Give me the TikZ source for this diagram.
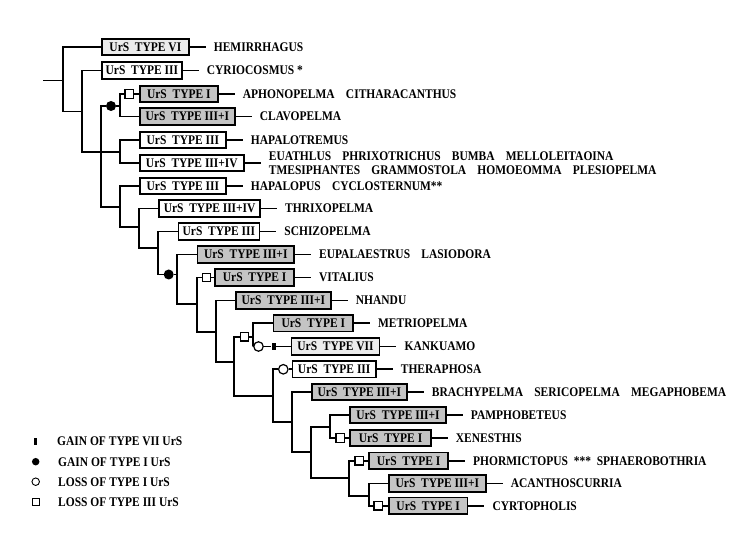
\documentclass[tikz,border=0pt]{standalone}
\usepackage{fontspec}
\setmainfont{Liberation Serif}[FakeStretch=0.87]
\usetikzlibrary{positioning}
\definecolor{withI}{RGB}{196,196,196}
\definecolor{rareurs}{RGB}{236,236,236}
\newcommand\wsp{\hspace{0.85em}}

\begin{document}
\begin{tikzpicture}
    [x=1pt, y=-1pt,
    font=\bfseries\fontsize{13.2}{13.4}\selectfont,
    branch/.style={line width=1.7pt},
    urs/.style={draw, line width=1.7pt, anchor=west, minimum height=16.5pt, inner sep=0pt},
    plainurs/.style={urs, fill=white},
    grayurs/.style={urs, fill=withI},
    lighturs/.style={urs, fill=rareurs},
    taxon/.style={right=16pt of #1, inner xsep=8pt, inner ysep=0pt, align=left},
    lossIII/.style={draw, fill=white, line width=1.2pt, minimum size=8.5pt, inner sep=0pt},
    lossI/.style={circle, draw, fill=white, line width=1.2pt, minimum size=9.5pt, inner sep=0pt},
    gainI/.style={circle, fill=black, minimum size=10pt, inner sep=0pt},
    gainVII/.style={fill=black, minimum width=4.3pt, minimum height=6.7pt, inner sep=0pt},
    legendtext/.style={anchor=west, inner sep=0pt}]

    \useasboundingbox (0,0) rectangle (740,540);

    % drawing the UrS boxes
    \node[lighturs, minimum width=87pt]  (b1)  at (101,47)    {UrS\ \ TYPE VI};
    \node[plainurs, minimum width=80pt]  (b2)  at (101,70.5)  {UrS\ \ TYPE III};
    \node[grayurs, minimum width=78pt]   (b3)  at (139,94)    {UrS\ \ TYPE I};
    \node[grayurs, minimum width=95pt]   (b4)  at (139,116.5) {UrS\ \ TYPE III+I};
    \node[plainurs, minimum width=86pt]  (b5)  at (139,140)   {UrS\ \ TYPE III};
    \node[plainurs, minimum width=104pt] (b6)  at (139,163)   {UrS\ \ TYPE III+IV};
    \node[plainurs, minimum width=86pt]  (b7)  at (139,186)   {UrS\ \ TYPE III};
    \node[plainurs, minimum width=101pt] (b8)  at (158.3,208.5) {UrS\ \ TYPE III+IV};
    \node[plainurs, minimum width=81pt]  (b9)  at (177.5,231.5) {UrS\ \ TYPE III};
    \node[grayurs, minimum width=96.5pt] (b10) at (196.7,254.5) {UrS\ \ TYPE III+I};
    \node[grayurs, minimum width=79pt]   (b11) at (214.3,277.5) {UrS\ \ TYPE I};
    \node[grayurs, minimum width=95pt]   (b12) at (235,300.5) {UrS\ \ TYPE III+I};
    \node[grayurs, minimum width=79.5pt] (b13) at (272.7,323.3) {UrS\ \ TYPE I};
    \node[lighturs, minimum width=88pt]  (b14) at (290.7,346.5) {UrS\ \ TYPE VII};
    \node[plainurs, minimum width=83.3pt] (b15) at (291.7,369.3) {UrS\ \ TYPE III};
    \node[grayurs, minimum width=95pt]   (b16) at (311,392)   {UrS\ \ TYPE III+I};
    \node[grayurs, minimum width=95.7pt] (b17) at (349.3,415) {UrS\ \ TYPE III+I};
    \node[grayurs, minimum width=80.7pt] (b18) at (349.3,438) {UrS\ \ TYPE I};
    \node[grayurs, minimum width=79pt]   (b19) at (368.3,460.8) {UrS\ \ TYPE I};
    \node[grayurs, minimum width=97pt]   (b20) at (388,483.5) {UrS\ \ TYPE III+I};
    \node[grayurs, minimum width=78.7pt] (b21) at (388,505.8) {UrS\ \ TYPE I};

    % drawing the genera
    \node[taxon=b1]  (t1)  {HEMIRRHAGUS};
    \node[taxon=b2]  (t2)  {CYRIOCOSMUS *};
    \node[taxon=b3]  (t3)  {APHONOPELMA\wsp CITHARACANTHUS};
    \node[taxon=b4]  (t4)  {CLAVOPELMA};
    \node[taxon=b5]  (t5)  {HAPALOTREMUS};
    \node[taxon=b6]  (t6)  {EUATHLUS\wsp PHRIXOTRICHUS\wsp BUMBA\wsp MELLOLEITAOINA\\
                            TMESIPHANTES\wsp GRAMMOSTOLA\wsp HOMOEOMMA\wsp PLESIOPELMA};
    \node[taxon=b7]  (t7)  {HAPALOPUS\wsp CYCLOSTERNUM**};
    \node[taxon=b8]  (t8)  {THRIXOPELMA};
    \node[taxon=b9]  (t9)  {SCHIZOPELMA};
    \node[taxon=b10] (t10) {EUPALAESTRUS\wsp LASIODORA};
    \node[taxon=b11] (t11) {VITALIUS};
    \node[taxon=b12] (t12) {NHANDU};
    \node[taxon=b13] (t13) {METRIOPELMA};
    \node[taxon=b14] (t14) {KANKUAMO};
    \node[taxon=b15] (t15) {THERAPHOSA};
    \node[taxon=b16] (t16) {BRACHYPELMA\wsp SERICOPELMA\wsp MEGAPHOBEMA};
    \node[taxon=b17] (t17) {PAMPHOBETEUS};
    \node[taxon=b18] (t18) {XENESTHIS};
    \node[taxon=b19] (t19) {PHORMICTOPUS \ *** \ SPHAEROBOTHRIA};
    \node[taxon=b20] (t20) {ACANTHOSCURRIA};
    \node[taxon=b21] (t21) {CYRTOPHOLIS};

    \foreach \i in {1,...,21}
        \draw[branch] (b\i) -- (t\i);

    % drawing the character changes
    \node[gainI]   (d1)  at (111,106) {};
    \node[gainI]   (d2)  at (168.7,274.5) {};
    \node[lossIII] (s3)  at (129.2,94) {};
    \node[lossIII] (s11) at (206.5,277.5) {};
    \node[lossIII] (sQ)  at (244.5,336.7) {};
    \node[lossIII] (s18) at (340.2,438) {};
    \node[lossIII] (s19) at (359.2,460.8) {};
    \node[lossIII] (s21) at (378.3,505.8) {};
    \node[lossI]   (c14) at (258.5,346.5) {};
    \node[lossI]   (c15) at (283.3,369.3) {};
    \node[gainVII] (g14) at (273.8,346.5) {};

    % internal nodes of the tree
    \coordinate (root) at (43,80.5);
    \coordinate (nA) at (63,80.5);
    \coordinate (nB) at (82,111.5);
    \coordinate (nC) at (101,152);
    \coordinate (nD) at (120,106);
    \coordinate (nE) at (120,152);
    \coordinate (nP1) at (120,207);
    \coordinate (nP2) at (139.3,226.7);
    \coordinate (nP3) at (158.3,248);
    \coordinate (nP4) at (177.3,274.5);
    \coordinate (nP5) at (196.7,304.3);
    \coordinate (nP6) at (215.7,331.7);
    \coordinate (nP7) at (234.3,361.7);
    \coordinate (nQ) at (253.3,336.7);
    \coordinate (nR) at (273.3,396);
    \coordinate (nS) at (291.7,421.7);
    \coordinate (nT) at (311,451.7);
    \coordinate (nU) at (330,427.3);
    \coordinate (nV) at (349.3,477.7);
    \coordinate (nW) at (369,495.7);

    % drawing the branches
    \draw[branch] (root) -- (nA);
    \draw[branch] (nA) |- (b1);
    \draw[branch] (nA) |- (nB);
    \draw[branch] (nB) |- (b2);
    \draw[branch] (nB) |- (nC);
    \draw[branch] (nC) |- (d1) -- (nD);
    \draw[branch] (nC) -- (nE);
    \draw[branch] (nC) |- (nP1);
    \draw[branch] (nD) |- (s3) -- (b3);
    \draw[branch] (nD) |- (b4);
    \draw[branch] (nE) |- (b5);
    \draw[branch] (nE) |- (b6);
    \draw[branch] (nP1) |- (b7);
    \draw[branch] (nP1) |- (nP2);
    \draw[branch] (nP2) |- (b8);
    \draw[branch] (nP2) |- (nP3);
    \draw[branch] (nP3) |- (b9);
    \draw[branch] (nP3) |- (d2) -- (nP4);
    \draw[branch] (nP4) |- (b10);
    \draw[branch] (nP4) |- (nP5);
    \draw[branch] (nP5) |- (s11) -- (b11);
    \draw[branch] (nP5) |- (nP6);
    \draw[branch] (nP6) |- (b12);
    \draw[branch] (nP6) |- (nP7);
    \draw[branch] (nP7) |- (sQ) -- (nQ);
    \draw[branch] (nP7) |- (nR);
    \draw[branch] (nQ) |- (b13);
    \draw[branch] (nQ) |- (c14) -- (g14) -- (b14);
    \draw[branch] (nR) |- (c15) -- (b15);
    \draw[branch] (nR) |- (nS);
    \draw[branch] (nS) |- (b16);
    \draw[branch] (nS) |- (nT);
    \draw[branch] (nT) |- (nU);
    \draw[branch] (nT) |- (nV);
    \draw[branch] (nU) |- (b17);
    \draw[branch] (nU) |- (s18) -- (b18);
    \draw[branch] (nV) |- (s19) -- (b19);
    \draw[branch] (nV) |- (nW);
    \draw[branch] (nW) |- (b20);
    \draw[branch] (nW) |- (s21) -- (b21);

    % drawing the legend
    \node[gainVII, minimum width=3.5pt, minimum height=7.5pt] (kVII) at (35.7,441.3) {};
    \node[gainI, minimum size=7.5pt] (kgI) at (35.7,461.7) {};
    \node[lossI, minimum size=7.5pt, line width=0.9pt] (klI) at (35.7,481.7) {};
    \node[lossIII, minimum size=6.5pt, line width=0.9pt] (klIII) at (35.7,501.7) {};
    \node[legendtext] (lVII) at (57,441.3) {GAIN OF TYPE VII UrS};
    \node[legendtext] (lgI) at (58,461.7) {GAIN OF TYPE I UrS};
    \node[legendtext] (llI) at (58,481.7) {LOSS OF TYPE I UrS};
    \node[legendtext] (llIII) at (58,501.7) {LOSS OF TYPE III UrS};

\end{tikzpicture}
\end{document}
